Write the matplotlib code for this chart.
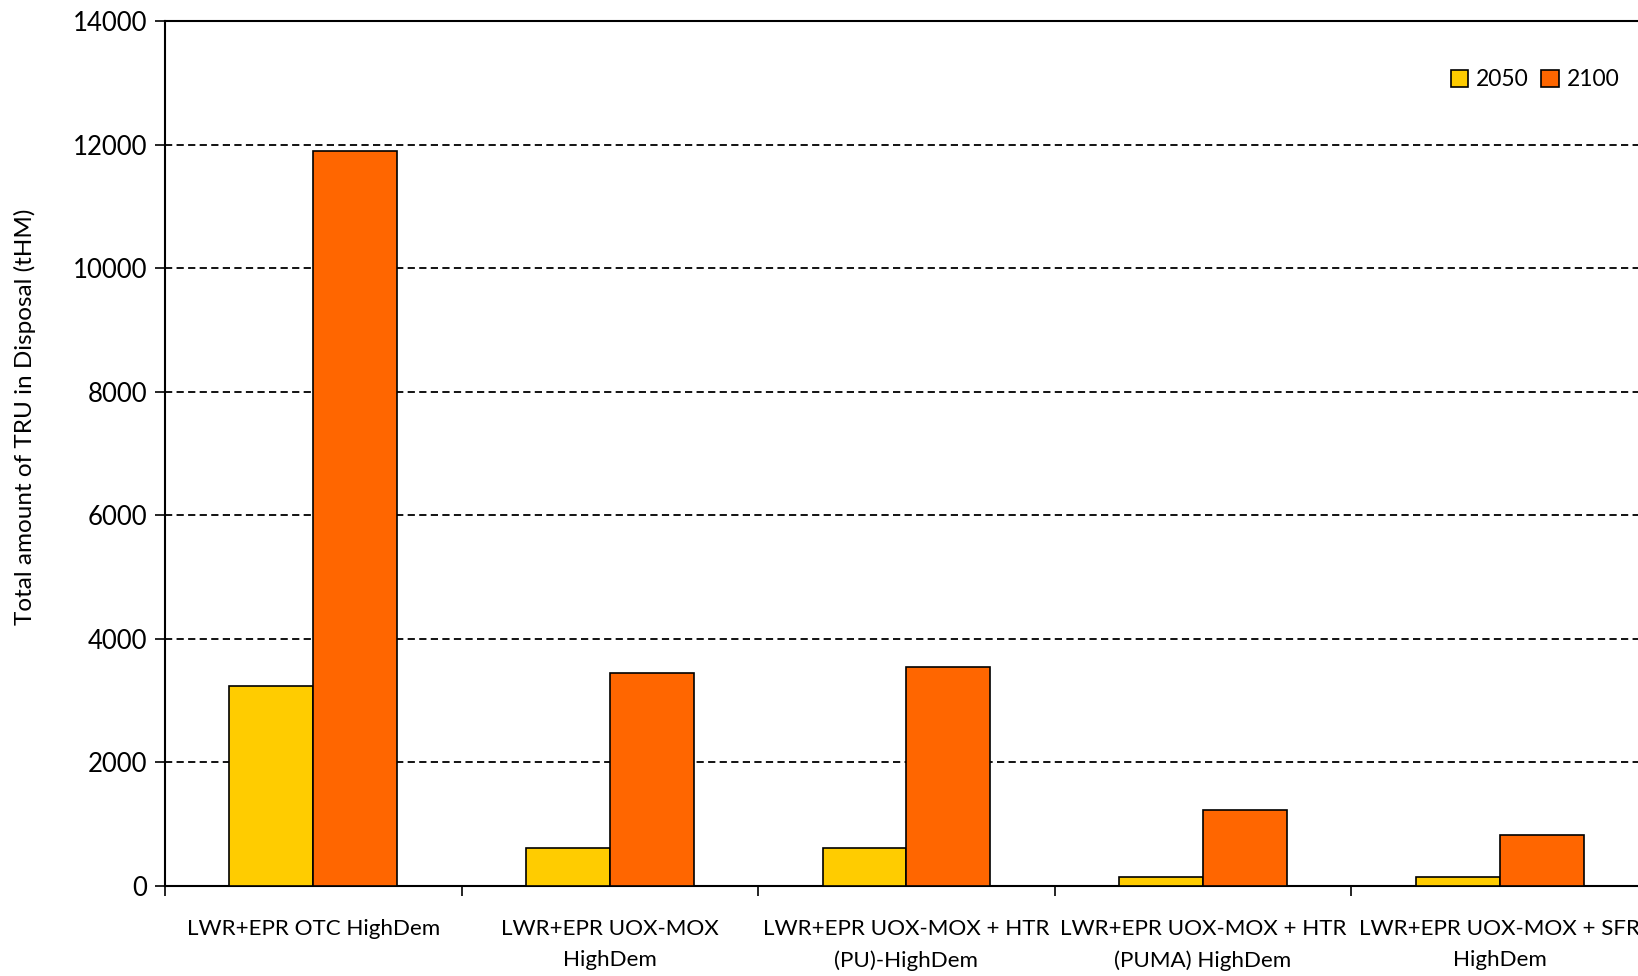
import matplotlib
matplotlib.use("Agg")
import matplotlib.pyplot as plt
import numpy as np

categories = [
    "LWR+EPR OTC HighDem",
    "LWR+EPR UOX-MOX\nHighDem",
    "LWR+EPR UOX-MOX + HTR\n(PU)-HighDem",
    "LWR+EPR UOX-MOX + HTR\n(PUMA) HighDem",
    "LWR+EPR UOX-MOX + SFR\nHighDem",
]
series_names = ["2050", "2100"]
values_2050 = [3230, 610, 610, 150, 150]
values_2100 = [11890, 3450, 3550, 1230, 830]
y_ticks = [0, 2000, 4000, 6000, 8000, 10000, 12000, 14000]
y_label = "Total amount of TRU in Disposal (tHM)"

colors = ["#FFCC00", "#FF6600"]

plt.rcParams["font.family"] = ["Lato", "DejaVu Sans"]

fig = plt.figure(figsize=(16.38, 9.76), dpi=100)
ax = fig.add_axes([0.1007, 0.0922, 0.9054, 0.8863])

x = np.arange(len(categories))
width = 0.283
ax.bar(x - width / 2, values_2050, width, color=colors[0], edgecolor="black",
       linewidth=1.2, label=series_names[0], zorder=3)
ax.bar(x + width / 2, values_2100, width, color=colors[1], edgecolor="black",
       linewidth=1.2, label=series_names[1], zorder=3)

ax.set_xlim(-0.5, len(categories) - 0.5)
ax.set_ylim(0, 14000)
ax.set_yticks(y_ticks)
ax.set_yticklabels([str(v) for v in y_ticks], fontsize=18.5)

# Category labels at centers, tick marks at category boundaries
ax.set_xticks(x)
ax.set_xticklabels(categories, fontsize=16.1, linespacing=1.65, va="top")
ax.tick_params(axis="x", which="major", length=0, pad=24)
ax.set_xticks(np.arange(-0.5, len(categories), 1.0), minor=True)
ax.tick_params(axis="x", which="minor", length=7, width=1.2, direction="out")
ax.tick_params(axis="y", length=7, width=1.2, direction="out", pad=6)

ax.yaxis.grid(True, color="black", linestyle=(0, (4, 2.4)), linewidth=1.3, zorder=0)
ax.set_axisbelow(True)

for side in ["left", "bottom", "top"]:
    ax.spines[side].set_linewidth(1.5)
    ax.spines[side].set_color("black")
ax.spines["right"].set_visible(False)

ax.set_ylabel(y_label, fontsize=17.5)
ax.yaxis.set_label_coords(-0.0868, 0.542)

leg = ax.legend(loc="upper right", bbox_to_anchor=(0.9946, 0.968), ncol=2, frameon=False,
                fontsize=16.5, handlelength=0.75, handleheight=0.75, handletextpad=0.35,
                columnspacing=0.55)

fig.savefig("out.png", dpi=100)
